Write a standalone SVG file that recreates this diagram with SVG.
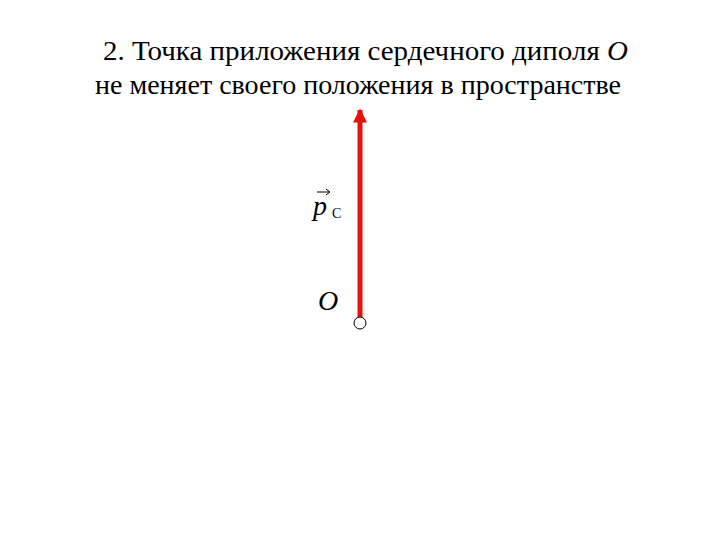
<svg xmlns="http://www.w3.org/2000/svg" width="720" height="540" viewBox="0 0 720 540">
<style>
text{font-family:'Liberation Serif','Times New Roman',serif;fill:#000}
.t{font-size:28px}
</style>
<defs>
<marker id="ah" viewBox="0 0 10 10" refX="9" refY="5" markerWidth="3.2" markerHeight="2.8" orient="auto" markerUnits="strokeWidth">
<path d="M0,0 L10,5 L0,10 Z" fill="#e8110f"/>
</marker>
</defs>
<rect width="720" height="540" fill="#fff"/>
<g id="title">
<text class="t" x="103" y="60" textLength="525" lengthAdjust="spacingAndGlyphs">2. Точка приложения сердечного диполя <tspan font-style="italic">O</tspan></text>
<text class="t" x="95" y="94" textLength="526" lengthAdjust="spacingAndGlyphs">не меняет своего положения в пространстве</text>
</g>
<g id="connectors">
<line x1="360" y1="318" x2="360" y2="110" stroke="#e8110f" stroke-width="5" marker-end="url(#ah)"/>
</g>
<g id="origin">
<circle cx="360" cy="323" r="6" fill="#fff" stroke="#000" stroke-width="1"/>
<text x="318" y="310" font-size="28" font-style="italic">O</text>
</g>
<g id="pc-label">
<text x="313" y="215" font-size="28" font-style="italic">p</text>
<text x="332" y="218" font-size="14">C</text>
<line x1="317" y1="192" x2="329" y2="192" stroke="#000" stroke-width="1"/>
<path d="M326,189 L330,192 L326,195" fill="none" stroke="#000" stroke-width="1"/>
</g>
</svg>
